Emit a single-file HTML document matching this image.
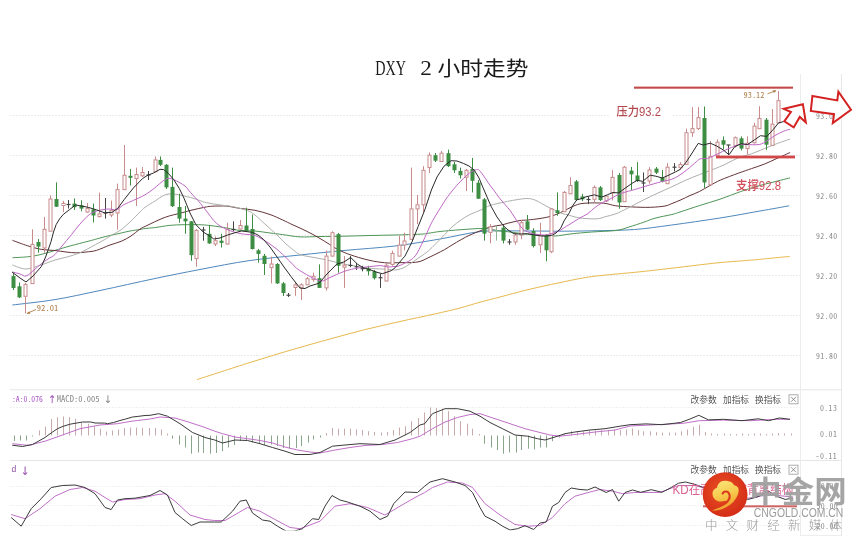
<!DOCTYPE html>
<html><head><meta charset="utf-8">
<style>
html,body{margin:0;padding:0;background:#fff;}
body{width:859px;height:544px;overflow:hidden;position:relative;}
svg{position:absolute;left:0;top:0;}
.ax{font-family:"Noto Sans Mono CJK SC",monospace;font-size:7.9px;letter-spacing:0.35px;fill:#8a8a8a;}
.cj{font-family:"Liberation Sans","Noto Sans CJK SC",sans-serif;}
</style></head><body>
<svg width="859" height="544" viewBox="0 0 859 544">
<rect width="859" height="544" fill="#fff"/>
<line x1="10" y1="115.5" x2="800" y2="115.5" stroke="#ececec" stroke-width="1" stroke-dasharray="2,1"/>
<line x1="10" y1="155.5" x2="800" y2="155.5" stroke="#ececec" stroke-width="1" stroke-dasharray="2,1"/>
<line x1="10" y1="195.5" x2="800" y2="195.5" stroke="#ececec" stroke-width="1" stroke-dasharray="2,1"/>
<line x1="10" y1="235.5" x2="800" y2="235.5" stroke="#ececec" stroke-width="1" stroke-dasharray="2,1"/>
<line x1="10" y1="275.5" x2="800" y2="275.5" stroke="#ececec" stroke-width="1" stroke-dasharray="2,1"/>
<line x1="10" y1="315.5" x2="800" y2="315.5" stroke="#ececec" stroke-width="1" stroke-dasharray="2,1"/>
<line x1="10" y1="355.5" x2="800" y2="355.5" stroke="#ececec" stroke-width="1" stroke-dasharray="2,1"/>
<line x1="10" y1="389.8" x2="841" y2="389.8" stroke="#e6e6e6" stroke-width="1"/>
<line x1="10" y1="460.5" x2="841" y2="460.5" stroke="#e6e6e6" stroke-width="1"/>
<line x1="800" y1="535.5" x2="841" y2="535.5" stroke="#eeeeee" stroke-width="1"/>
<line x1="10" y1="407.5" x2="800" y2="407.5" stroke="#f1f1f1" stroke-width="1" stroke-dasharray="2,1"/>
<line x1="10" y1="486.5" x2="800" y2="486.5" stroke="#f2f2f2" stroke-width="1" stroke-dasharray="2,1"/>
<line x1="10" y1="505.5" x2="800" y2="505.5" stroke="#f2f2f2" stroke-width="1" stroke-dasharray="2,1"/>
<line x1="10" y1="525.5" x2="800" y2="525.5" stroke="#f2f2f2" stroke-width="1" stroke-dasharray="2,1"/>
<line x1="800.5" y1="74" x2="800.5" y2="536" stroke="#ececec" stroke-width="1"/>
<line x1="841.5" y1="74" x2="841.5" y2="536" stroke="#e7e7e7" stroke-width="1"/>
<path d="M197.0,379.6 C205.8,376.8 233.7,367.6 250.0,362.5 C266.3,357.4 281.5,352.8 294.8,348.9 C308.1,345.0 318.4,342.2 330.0,339.0 C341.6,335.8 352.9,332.6 364.6,329.7 C376.3,326.8 388.4,324.1 400.0,321.5 C411.6,318.9 424.5,316.2 434.5,314.0 C444.5,311.8 452.4,310.0 460.0,308.0 C467.6,306.0 473.3,304.0 480.0,302.2 C486.7,300.4 492.2,299.0 500.0,297.0 C507.8,295.0 516.6,292.4 526.6,290.0 C536.6,287.6 549.1,284.8 560.0,282.6 C570.9,280.4 578.5,278.4 591.8,276.6 C605.1,274.8 627.0,273.2 640.0,271.8 C653.0,270.4 660.7,269.5 670.0,268.4 C679.3,267.3 687.6,266.3 695.9,265.3 C704.2,264.3 710.7,263.5 720.0,262.6 C729.3,261.7 743.4,260.8 751.7,260.1 C760.0,259.4 763.6,258.9 770.0,258.3 C776.4,257.7 786.6,256.7 789.9,256.4" fill="none" stroke="#e8b84e" stroke-width="1"/>
<path d="M12.4,305.0 C19.5,304.1 40.4,302.0 55.0,299.6 C69.6,297.2 83.3,294.0 100.0,290.5 C116.7,287.0 138.3,282.0 155.0,278.5 C171.7,275.0 184.2,272.5 200.0,269.5 C215.8,266.5 233.3,262.9 250.0,260.5 C266.7,258.1 284.3,256.7 300.0,255.0 C315.7,253.3 328.2,252.0 344.0,250.5 C359.8,249.0 379.0,247.9 395.0,246.0 C411.0,244.1 425.7,241.4 440.0,239.0 C454.3,236.6 468.2,232.8 481.0,231.5 C493.8,230.2 504.7,231.0 517.0,230.9 C529.3,230.8 542.5,231.2 555.0,231.2 C567.5,231.2 578.5,231.1 591.8,230.8 C605.0,230.5 621.2,230.5 634.5,229.5 C647.8,228.5 657.5,226.9 671.8,225.0 C686.0,223.1 705.3,220.3 720.0,218.0 C734.7,215.7 748.5,213.0 760.0,211.0 C771.5,209.0 784.3,206.7 789.2,205.8" fill="none" stroke="#4f88bd" stroke-width="1"/>
<path d="M12.4,257.7 C14.9,257.6 22.8,257.3 27.6,256.8 C32.4,256.3 36.4,255.6 41.0,254.5 C45.6,253.4 50.2,251.8 55.0,250.4 C59.8,249.0 64.5,247.5 70.0,246.0 C75.5,244.5 83.1,242.6 88.1,241.3 C93.1,240.0 96.3,239.0 100.0,238.0 C103.7,237.0 106.5,236.3 110.0,235.5 C113.5,234.7 117.9,233.8 121.2,233.0 C124.5,232.2 126.9,231.6 130.0,231.0 C133.1,230.4 137.5,229.9 140.0,229.5 C142.5,229.1 142.6,228.8 145.0,228.5 C147.4,228.2 150.6,228.1 154.7,227.6 C158.8,227.1 164.5,225.9 169.4,225.4 C174.3,224.9 179.1,224.8 184.0,224.7 C188.9,224.6 194.5,224.6 198.8,224.7 C203.1,224.8 206.5,225.1 210.0,225.5 C213.5,225.9 217.1,226.5 220.0,226.9 C222.9,227.3 224.3,227.6 227.6,228.2 C230.9,228.8 235.4,230.0 240.0,230.5 C244.6,231.0 250.0,230.6 255.0,231.0 C260.0,231.4 265.4,232.4 270.0,233.0 C274.6,233.6 277.7,233.9 282.7,234.6 C287.7,235.2 293.8,236.6 300.0,236.9 C306.2,237.2 312.7,236.6 320.0,236.5 C327.3,236.4 335.7,236.4 344.0,236.2 C352.3,236.0 361.5,235.7 370.0,235.5 C378.5,235.3 386.7,235.2 395.0,235.0 C403.3,234.8 414.5,234.5 420.0,234.2 C425.5,233.9 424.8,233.8 428.1,233.3 C431.4,232.9 434.5,232.1 440.0,231.5 C445.5,230.9 453.9,230.2 461.2,229.7 C468.5,229.2 477.5,228.3 484.0,228.5 C490.5,228.7 495.7,230.4 500.0,231.0 C504.3,231.6 505.4,231.4 510.0,232.0 C514.6,232.6 522.4,233.7 527.6,234.3 C532.8,234.9 536.4,235.2 541.0,235.5 C545.6,235.8 550.2,236.2 555.0,236.0 C559.8,235.8 563.9,234.7 570.0,234.0 C576.1,233.3 584.1,232.6 591.8,232.0 C599.4,231.4 609.7,231.3 615.9,230.5 C622.1,229.7 624.4,228.4 629.0,227.0 C633.6,225.6 639.5,223.7 643.8,222.2 C648.1,220.7 650.3,219.5 655.0,218.2 C659.7,216.9 667.6,215.5 671.8,214.5 C676.0,213.5 675.4,213.5 680.0,212.0 C684.6,210.5 693.0,207.6 699.7,205.5 C706.4,203.4 713.1,201.5 720.0,199.2 C726.9,196.9 734.1,193.8 740.8,191.5 C747.5,189.2 753.4,187.4 760.0,185.5 C766.6,183.6 775.4,181.6 780.4,180.3 C785.4,179.0 788.4,178.3 790.0,177.9" fill="none" stroke="#4f9656" stroke-width="1"/>
<path d="M12.4,240.3 C14.9,241.2 22.8,244.3 27.6,245.8 C32.4,247.3 36.8,248.6 41.4,249.4 C46.0,250.2 50.9,250.1 55.0,250.5 C59.1,250.9 62.4,251.6 66.0,252.0 C69.6,252.4 73.2,252.8 76.5,252.8 C79.8,252.8 82.7,252.4 86.0,252.0 C89.3,251.6 92.4,251.6 96.4,250.4 C100.4,249.2 105.9,246.5 110.0,245.0 C114.1,243.5 117.7,242.8 121.2,241.3 C124.7,239.8 127.9,238.0 131.0,236.0 C134.1,234.0 137.3,230.8 140.0,229.1 C142.7,227.3 144.6,226.7 147.0,225.5 C149.4,224.3 152.2,223.0 154.7,221.8 C157.2,220.6 159.6,219.5 162.0,218.5 C164.4,217.5 166.9,216.7 169.4,215.9 C171.9,215.2 174.6,214.6 177.0,214.0 C179.4,213.4 181.7,212.8 184.0,212.2 C186.3,211.6 188.5,210.9 191.0,210.3 C193.5,209.7 196.5,209.0 198.8,208.5 C201.1,208.0 203.0,207.6 205.0,207.2 C207.0,206.8 208.1,206.5 210.6,206.3 C213.1,206.1 217.2,206.0 220.0,206.0 C222.8,206.0 224.3,205.8 227.6,206.2 C230.9,206.6 235.4,207.7 240.0,208.4 C244.6,209.1 250.0,209.3 255.0,210.3 C260.0,211.3 265.4,212.9 270.0,214.5 C274.6,216.1 279.0,218.3 282.7,220.0 C286.4,221.7 288.8,223.0 292.0,224.5 C295.2,226.0 298.7,227.4 302.0,229.0 C305.3,230.6 309.0,232.4 312.0,234.0 C315.0,235.6 317.1,236.8 320.0,238.5 C322.9,240.2 326.7,242.6 329.4,244.3 C332.1,246.0 333.6,247.2 336.0,248.5 C338.4,249.8 341.6,251.3 344.1,252.4 C346.6,253.5 348.6,254.2 351.0,255.0 C353.4,255.8 356.3,256.8 358.8,257.5 C361.3,258.2 363.6,258.9 366.0,259.5 C368.4,260.1 371.0,260.7 373.5,261.2 C376.0,261.7 378.6,262.0 381.0,262.3 C383.4,262.6 385.9,262.9 388.2,263.0 C390.5,263.1 392.5,262.9 395.0,262.8 C397.5,262.7 400.2,262.6 403.0,262.6 C405.8,262.6 408.7,262.8 411.5,262.6 C414.3,262.4 417.2,262.3 420.0,261.5 C422.8,260.7 425.4,259.1 428.1,257.8 C430.8,256.6 433.2,255.4 436.0,254.0 C438.8,252.6 441.9,251.1 444.6,249.6 C447.3,248.1 449.2,246.7 452.0,245.0 C454.8,243.3 458.2,241.3 461.2,239.6 C464.2,237.9 466.7,236.5 470.0,235.0 C473.3,233.5 477.7,231.8 481.0,230.5 C484.3,229.2 486.5,227.9 490.0,227.0 C493.5,226.1 498.5,225.6 501.8,224.9 C505.1,224.2 507.0,223.4 510.0,222.7 C513.0,222.0 517.1,220.9 520.0,220.5 C522.9,220.1 524.3,220.3 527.6,220.0 C530.9,219.7 536.3,219.1 540.0,218.5 C543.7,217.9 546.7,217.4 550.0,216.5 C553.3,215.6 555.9,214.6 560.0,212.8 C564.1,211.0 570.7,207.1 574.9,205.5 C579.1,203.9 580.2,203.6 585.0,203.2 C589.8,202.8 598.5,202.8 603.6,203.2 C608.7,203.6 611.0,205.2 615.7,205.8 C620.4,206.4 625.9,206.7 631.6,206.9 C637.4,207.2 644.6,207.5 650.2,207.3 C655.8,207.2 661.4,206.6 665.0,206.0 C668.6,205.4 669.3,204.5 672.0,203.5 C674.7,202.5 678.0,201.1 681.0,199.8 C684.0,198.5 686.9,196.9 690.0,195.5 C693.1,194.1 696.4,193.1 699.7,191.4 C703.0,189.7 706.5,187.4 710.0,185.5 C713.5,183.6 715.8,182.1 720.6,180.0 C725.4,177.9 733.5,175.0 738.6,173.1 C743.8,171.2 747.2,170.1 751.5,168.6 C755.8,167.1 760.1,165.8 764.4,164.1 C768.7,162.4 772.9,160.2 777.2,158.3 C781.5,156.4 788.0,153.5 790.1,152.5" fill="none" stroke="#643437" stroke-width="1"/>
<path d="M12.4,265.0 C14.7,265.7 21.2,269.0 26.0,269.0 C30.8,269.0 36.2,266.5 41.0,265.0 C45.8,263.5 50.7,261.3 55.0,260.0 C59.3,258.7 62.9,258.2 67.0,257.0 C71.1,255.8 75.6,254.6 79.8,252.8 C84.0,251.1 87.9,248.7 92.0,246.5 C96.1,244.3 101.3,241.5 104.6,239.6 C107.9,237.7 109.2,236.7 112.0,235.0 C114.8,233.3 118.2,231.9 121.2,229.7 C124.2,227.5 126.9,224.9 130.0,222.0 C133.1,219.1 137.5,214.4 140.0,212.0 C142.5,209.6 142.6,209.1 145.0,207.3 C147.4,205.5 152.0,202.9 154.7,201.2 C157.4,199.5 158.8,198.2 161.0,197.0 C163.2,195.8 165.1,194.4 168.0,194.0 C170.9,193.6 175.2,194.2 178.2,194.6 C181.2,195.0 183.5,195.9 186.0,196.5 C188.5,197.1 189.6,197.2 193.0,198.2 C196.4,199.2 201.7,201.5 206.2,202.6 C210.7,203.7 215.7,204.2 220.0,204.9 C224.3,205.6 227.4,205.6 232.0,206.5 C236.6,207.4 243.6,209.2 247.4,210.6 C251.2,212.0 251.9,212.6 255.0,215.0 C258.1,217.4 262.3,221.7 266.0,225.0 C269.7,228.3 273.8,232.0 277.0,235.0 C280.2,238.0 282.2,240.4 285.0,243.0 C287.8,245.6 291.2,248.4 293.7,250.3 C296.2,252.2 297.3,253.5 300.0,254.6 C302.7,255.7 306.3,256.1 310.0,256.8 C313.7,257.5 318.2,258.2 322.0,259.0 C325.8,259.8 329.3,260.6 333.0,261.5 C336.7,262.4 340.3,263.4 344.0,264.1 C347.7,264.9 351.3,265.4 355.0,266.0 C358.7,266.6 362.3,267.3 366.0,267.8 C369.7,268.3 373.3,268.6 377.0,268.8 C380.7,269.1 385.0,269.1 388.0,269.3 C391.0,269.5 392.5,270.2 395.0,270.0 C397.5,269.8 400.2,269.2 403.0,268.0 C405.8,266.8 408.7,264.6 411.5,262.8 C414.3,261.0 417.2,258.9 420.0,257.0 C422.8,255.1 425.4,253.4 428.1,251.2 C430.8,248.9 433.2,246.2 436.0,243.5 C438.8,240.8 441.9,237.4 444.6,234.7 C447.3,231.9 449.2,229.5 452.0,227.0 C454.8,224.5 458.2,221.9 461.2,219.8 C464.2,217.7 466.7,216.2 470.0,214.5 C473.3,212.8 477.7,211.4 481.0,209.9 C484.3,208.4 486.1,206.8 490.0,205.5 C493.9,204.2 500.5,202.9 504.7,202.0 C508.9,201.1 511.3,200.6 515.0,200.0 C518.7,199.4 523.7,198.5 527.0,198.5 C530.3,198.5 532.6,199.2 535.0,200.0 C537.4,200.8 539.2,202.2 541.4,203.4 C543.6,204.6 545.7,205.8 548.0,207.0 C550.3,208.2 552.8,209.2 555.1,210.3 C557.4,211.4 559.9,212.8 562.0,213.5 C564.1,214.2 565.3,214.1 567.5,214.7 C569.7,215.3 572.5,216.4 575.0,217.0 C577.5,217.6 579.0,218.0 582.7,218.3 C586.4,218.6 593.4,219.1 597.3,218.8 C601.2,218.5 602.9,217.3 606.0,216.5 C609.1,215.7 612.2,215.2 615.9,213.8 C619.6,212.4 623.4,210.3 628.0,208.0 C632.6,205.7 639.0,202.2 643.8,199.8 C648.6,197.4 652.3,195.7 657.0,193.5 C661.7,191.3 667.1,189.0 671.8,186.8 C676.5,184.6 680.4,182.6 685.0,180.5 C689.6,178.4 695.1,176.3 699.7,174.5 C704.4,172.7 708.6,171.2 712.9,169.5 C717.2,167.8 721.4,166.1 725.7,164.1 C730.0,162.1 734.3,159.3 738.6,157.6 C742.9,155.9 747.2,155.3 751.5,153.8 C755.8,152.3 760.1,150.3 764.4,148.6 C768.7,146.9 772.9,145.1 777.2,143.5 C781.5,141.9 788.0,139.8 790.1,139.0" fill="none" stroke="#adb0ab" stroke-width="1"/>
<line x1="13.5" y1="273.0" x2="13.5" y2="290.0" stroke="#3d8d43" stroke-width="1"/>
<rect x="11.5" y="276.1" width="4" height="11.9" fill="#3d8d43"/>
<line x1="19.5" y1="282.5" x2="19.5" y2="298.0" stroke="#3d8d43" stroke-width="1"/>
<rect x="17.5" y="286.3" width="4" height="11.1" fill="#3d8d43"/>
<line x1="25.5" y1="283.0" x2="25.5" y2="284.4" stroke="#c88a8a" stroke-width="1"/>
<line x1="25.5" y1="296.3" x2="25.5" y2="313.4" stroke="#c88a8a" stroke-width="1"/>
<rect x="24" y="284.4" width="3" height="11.9" fill="#fff" stroke="#c88a8a" stroke-width="1"/>
<line x1="32.5" y1="229.3" x2="32.5" y2="244.4" stroke="#c88a8a" stroke-width="1"/>
<line x1="32.5" y1="283.6" x2="32.5" y2="284.0" stroke="#c88a8a" stroke-width="1"/>
<rect x="31" y="244.4" width="3" height="39.2" fill="#fff" stroke="#c88a8a" stroke-width="1"/>
<line x1="38.5" y1="239.0" x2="38.5" y2="252.7" stroke="#3d8d43" stroke-width="1"/>
<rect x="36.5" y="242.0" width="4" height="4.6" fill="#3d8d43"/>
<line x1="44.5" y1="216.9" x2="44.5" y2="229.3" stroke="#c88a8a" stroke-width="1"/>
<line x1="44.5" y1="248.0" x2="44.5" y2="252.7" stroke="#c88a8a" stroke-width="1"/>
<rect x="43" y="229.3" width="3" height="18.7" fill="#fff" stroke="#c88a8a" stroke-width="1"/>
<line x1="50.5" y1="195.4" x2="50.5" y2="199.0" stroke="#c88a8a" stroke-width="1"/>
<line x1="50.5" y1="231.2" x2="50.5" y2="231.0" stroke="#c88a8a" stroke-width="1"/>
<rect x="49" y="199.0" width="3" height="32.2" fill="#fff" stroke="#c88a8a" stroke-width="1"/>
<line x1="56.5" y1="182.4" x2="56.5" y2="207.0" stroke="#3d8d43" stroke-width="1"/>
<rect x="54.5" y="199.0" width="4" height="7.7" fill="#3d8d43"/>
<line x1="63.5" y1="200.9" x2="63.5" y2="203.5" stroke="#c88a8a" stroke-width="1"/>
<line x1="63.5" y1="205.5" x2="63.5" y2="212.0" stroke="#c88a8a" stroke-width="1"/>
<rect x="62" y="203.5" width="3" height="2.0" fill="#fff" stroke="#c88a8a" stroke-width="1"/>
<line x1="68.5" y1="200.0" x2="68.5" y2="208.6" stroke="#444" stroke-width="1"/>
<line x1="66.5" y1="204.5" x2="70.5" y2="204.5" stroke="#444" stroke-width="1.2"/>
<line x1="74.5" y1="198.4" x2="74.5" y2="210.0" stroke="#3d8d43" stroke-width="1"/>
<rect x="72.5" y="203.6" width="4" height="3.6" fill="#3d8d43"/>
<line x1="81.5" y1="200.3" x2="81.5" y2="211.4" stroke="#3d8d43" stroke-width="1"/>
<rect x="79.5" y="205.3" width="4" height="3.3" fill="#3d8d43"/>
<line x1="87.5" y1="203.0" x2="87.5" y2="208.6" stroke="#c88a8a" stroke-width="1"/>
<line x1="87.5" y1="212.0" x2="87.5" y2="212.7" stroke="#c88a8a" stroke-width="1"/>
<rect x="86" y="208.6" width="3" height="3.4" fill="#fff" stroke="#c88a8a" stroke-width="1"/>
<line x1="93.5" y1="203.6" x2="93.5" y2="222.4" stroke="#3d8d43" stroke-width="1"/>
<rect x="91.5" y="209.4" width="4" height="6.1" fill="#3d8d43"/>
<line x1="99.5" y1="192.6" x2="99.5" y2="213.9" stroke="#c88a8a" stroke-width="1"/>
<line x1="99.5" y1="216.6" x2="99.5" y2="217.4" stroke="#c88a8a" stroke-width="1"/>
<rect x="98" y="213.9" width="3" height="2.7" fill="#fff" stroke="#c88a8a" stroke-width="1"/>
<line x1="105.5" y1="198.0" x2="105.5" y2="218.6" stroke="#444" stroke-width="1"/>
<line x1="103.5" y1="213.0" x2="107.5" y2="213.0" stroke="#444" stroke-width="1.2"/>
<line x1="111.5" y1="200.6" x2="111.5" y2="210.3" stroke="#c88a8a" stroke-width="1"/>
<line x1="111.5" y1="215.0" x2="111.5" y2="217.2" stroke="#c88a8a" stroke-width="1"/>
<rect x="110" y="210.3" width="3" height="4.7" fill="#fff" stroke="#c88a8a" stroke-width="1"/>
<line x1="117.5" y1="183.6" x2="117.5" y2="189.6" stroke="#c88a8a" stroke-width="1"/>
<line x1="117.5" y1="213.0" x2="117.5" y2="229.6" stroke="#c88a8a" stroke-width="1"/>
<rect x="116" y="189.6" width="3" height="23.4" fill="#fff" stroke="#c88a8a" stroke-width="1"/>
<line x1="124.5" y1="145.0" x2="124.5" y2="175.3" stroke="#c88a8a" stroke-width="1"/>
<line x1="124.5" y1="189.6" x2="124.5" y2="190.0" stroke="#c88a8a" stroke-width="1"/>
<rect x="123" y="175.3" width="3" height="14.3" fill="#fff" stroke="#c88a8a" stroke-width="1"/>
<line x1="130.5" y1="169.0" x2="130.5" y2="185.5" stroke="#3d8d43" stroke-width="1"/>
<rect x="128.5" y="175.8" width="4" height="2.0" fill="#3d8d43"/>
<line x1="136.5" y1="167.6" x2="136.5" y2="174.5" stroke="#c88a8a" stroke-width="1"/>
<line x1="136.5" y1="178.6" x2="136.5" y2="206.0" stroke="#c88a8a" stroke-width="1"/>
<rect x="135" y="174.5" width="3" height="4.1" fill="#fff" stroke="#c88a8a" stroke-width="1"/>
<line x1="142.5" y1="167.0" x2="142.5" y2="172.5" stroke="#c88a8a" stroke-width="1"/>
<line x1="142.5" y1="175.8" x2="142.5" y2="177.0" stroke="#c88a8a" stroke-width="1"/>
<rect x="141" y="172.5" width="3" height="3.3" fill="#fff" stroke="#c88a8a" stroke-width="1"/>
<line x1="148.5" y1="171.0" x2="148.5" y2="180.0" stroke="#444" stroke-width="1"/>
<line x1="146.5" y1="175.0" x2="150.5" y2="175.0" stroke="#444" stroke-width="1.2"/>
<line x1="155.5" y1="156.5" x2="155.5" y2="159.9" stroke="#c88a8a" stroke-width="1"/>
<line x1="155.5" y1="171.7" x2="155.5" y2="172.0" stroke="#c88a8a" stroke-width="1"/>
<rect x="154" y="159.9" width="3" height="11.8" fill="#fff" stroke="#c88a8a" stroke-width="1"/>
<line x1="160.5" y1="156.5" x2="160.5" y2="166.0" stroke="#3d8d43" stroke-width="1"/>
<rect x="158.5" y="159.9" width="4" height="4.9" fill="#3d8d43"/>
<line x1="166.5" y1="164.0" x2="166.5" y2="189.0" stroke="#3d8d43" stroke-width="1"/>
<rect x="164.5" y="164.8" width="4" height="22.6" fill="#3d8d43"/>
<line x1="172.5" y1="167.6" x2="172.5" y2="207.0" stroke="#3d8d43" stroke-width="1"/>
<rect x="170.5" y="186.9" width="4" height="19.3" fill="#3d8d43"/>
<line x1="179.5" y1="193.8" x2="179.5" y2="222.7" stroke="#3d8d43" stroke-width="1"/>
<rect x="177.5" y="207.0" width="4" height="11.6" fill="#3d8d43"/>
<line x1="185.5" y1="206.0" x2="185.5" y2="233.7" stroke="#3d8d43" stroke-width="1"/>
<rect x="183.5" y="218.6" width="4" height="2.7" fill="#3d8d43"/>
<line x1="191.5" y1="221.0" x2="191.5" y2="260.8" stroke="#3d8d43" stroke-width="1"/>
<rect x="189.5" y="221.3" width="4" height="33.9" fill="#3d8d43"/>
<line x1="196.5" y1="229.0" x2="196.5" y2="230.4" stroke="#c88a8a" stroke-width="1"/>
<line x1="196.5" y1="258.6" x2="196.5" y2="266.8" stroke="#c88a8a" stroke-width="1"/>
<rect x="195" y="230.4" width="3" height="28.2" fill="#fff" stroke="#c88a8a" stroke-width="1"/>
<line x1="203.5" y1="226.9" x2="203.5" y2="240.7" stroke="#444" stroke-width="1"/>
<line x1="201.5" y1="230.0" x2="205.5" y2="230.0" stroke="#444" stroke-width="1.2"/>
<line x1="209.5" y1="225.5" x2="209.5" y2="244.0" stroke="#3d8d43" stroke-width="1"/>
<rect x="207.5" y="233.8" width="4" height="9.6" fill="#3d8d43"/>
<line x1="215.5" y1="236.5" x2="215.5" y2="240.7" stroke="#c88a8a" stroke-width="1"/>
<line x1="215.5" y1="244.0" x2="215.5" y2="246.0" stroke="#c88a8a" stroke-width="1"/>
<rect x="214" y="240.7" width="3" height="3.3" fill="#fff" stroke="#c88a8a" stroke-width="1"/>
<line x1="221.5" y1="233.8" x2="221.5" y2="247.5" stroke="#3d8d43" stroke-width="1"/>
<rect x="219.5" y="240.7" width="4" height="2.2" fill="#3d8d43"/>
<line x1="227.5" y1="222.7" x2="227.5" y2="229.6" stroke="#c88a8a" stroke-width="1"/>
<line x1="227.5" y1="244.0" x2="227.5" y2="244.5" stroke="#c88a8a" stroke-width="1"/>
<rect x="226" y="229.6" width="3" height="14.4" fill="#fff" stroke="#c88a8a" stroke-width="1"/>
<line x1="233.5" y1="221.4" x2="233.5" y2="231.0" stroke="#444" stroke-width="1"/>
<line x1="231.5" y1="229.5" x2="235.5" y2="229.5" stroke="#444" stroke-width="1.2"/>
<line x1="240.5" y1="220.0" x2="240.5" y2="225.5" stroke="#c88a8a" stroke-width="1"/>
<line x1="240.5" y1="229.0" x2="240.5" y2="229.5" stroke="#c88a8a" stroke-width="1"/>
<rect x="239" y="225.5" width="3" height="3.5" fill="#fff" stroke="#c88a8a" stroke-width="1"/>
<line x1="246.5" y1="207.6" x2="246.5" y2="232.0" stroke="#3d8d43" stroke-width="1"/>
<rect x="244.5" y="225.5" width="4" height="5.5" fill="#3d8d43"/>
<line x1="252.5" y1="214.5" x2="252.5" y2="249.5" stroke="#3d8d43" stroke-width="1"/>
<rect x="250.5" y="229.0" width="4" height="20.0" fill="#3d8d43"/>
<line x1="258.5" y1="249.0" x2="258.5" y2="262.7" stroke="#3d8d43" stroke-width="1"/>
<rect x="256.5" y="250.3" width="4" height="3.6" fill="#3d8d43"/>
<line x1="264.5" y1="253.9" x2="264.5" y2="275.0" stroke="#3d8d43" stroke-width="1"/>
<rect x="262.5" y="255.8" width="4" height="8.2" fill="#3d8d43"/>
<line x1="271.5" y1="256.6" x2="271.5" y2="264.0" stroke="#c88a8a" stroke-width="1"/>
<line x1="271.5" y1="267.7" x2="271.5" y2="283.4" stroke="#c88a8a" stroke-width="1"/>
<rect x="270" y="264.0" width="3" height="3.7" fill="#fff" stroke="#c88a8a" stroke-width="1"/>
<line x1="277.5" y1="263.0" x2="277.5" y2="284.0" stroke="#3d8d43" stroke-width="1"/>
<rect x="275.5" y="264.0" width="4" height="19.4" fill="#3d8d43"/>
<line x1="283.5" y1="282.0" x2="283.5" y2="296.0" stroke="#3d8d43" stroke-width="1"/>
<rect x="281.5" y="283.4" width="4" height="9.6" fill="#3d8d43"/>
<line x1="288.5" y1="293.0" x2="288.5" y2="297.0" stroke="#444" stroke-width="1"/>
<line x1="286.5" y1="295.2" x2="290.5" y2="295.2" stroke="#444" stroke-width="1.2"/>
<line x1="295.5" y1="282.0" x2="295.5" y2="284.8" stroke="#c88a8a" stroke-width="1"/>
<line x1="295.5" y1="287.5" x2="295.5" y2="295.8" stroke="#c88a8a" stroke-width="1"/>
<rect x="294" y="284.8" width="3" height="2.7" fill="#fff" stroke="#c88a8a" stroke-width="1"/>
<line x1="301.5" y1="283.4" x2="301.5" y2="284.8" stroke="#c88a8a" stroke-width="1"/>
<line x1="301.5" y1="288.0" x2="301.5" y2="300.0" stroke="#c88a8a" stroke-width="1"/>
<rect x="300" y="284.8" width="3" height="3.2" fill="#fff" stroke="#c88a8a" stroke-width="1"/>
<line x1="307.5" y1="277.0" x2="307.5" y2="278.7" stroke="#c88a8a" stroke-width="1"/>
<line x1="307.5" y1="284.8" x2="307.5" y2="285.0" stroke="#c88a8a" stroke-width="1"/>
<rect x="306" y="278.7" width="3" height="6.1" fill="#fff" stroke="#c88a8a" stroke-width="1"/>
<line x1="313.5" y1="272.7" x2="313.5" y2="276.3" stroke="#c88a8a" stroke-width="1"/>
<line x1="313.5" y1="279.6" x2="313.5" y2="281.8" stroke="#c88a8a" stroke-width="1"/>
<rect x="312" y="276.3" width="3" height="3.3" fill="#fff" stroke="#c88a8a" stroke-width="1"/>
<line x1="319.5" y1="264.4" x2="319.5" y2="288.0" stroke="#3d8d43" stroke-width="1"/>
<rect x="317.5" y="278.2" width="4" height="9.7" fill="#3d8d43"/>
<line x1="326.5" y1="250.6" x2="326.5" y2="256.1" stroke="#c88a8a" stroke-width="1"/>
<line x1="326.5" y1="287.9" x2="326.5" y2="290.6" stroke="#c88a8a" stroke-width="1"/>
<rect x="325" y="256.1" width="3" height="31.8" fill="#fff" stroke="#c88a8a" stroke-width="1"/>
<line x1="332.5" y1="231.3" x2="332.5" y2="232.7" stroke="#c88a8a" stroke-width="1"/>
<line x1="332.5" y1="256.1" x2="332.5" y2="256.5" stroke="#c88a8a" stroke-width="1"/>
<rect x="331" y="232.7" width="3" height="23.4" fill="#fff" stroke="#c88a8a" stroke-width="1"/>
<line x1="338.5" y1="233.0" x2="338.5" y2="272.7" stroke="#3d8d43" stroke-width="1"/>
<rect x="336.5" y="234.1" width="4" height="31.7" fill="#3d8d43"/>
<line x1="344.5" y1="256.1" x2="344.5" y2="265.2" stroke="#c88a8a" stroke-width="1"/>
<line x1="344.5" y1="267.2" x2="344.5" y2="287.9" stroke="#c88a8a" stroke-width="1"/>
<rect x="343" y="265.2" width="3" height="2.0" fill="#fff" stroke="#c88a8a" stroke-width="1"/>
<line x1="350.5" y1="256.1" x2="350.5" y2="267.2" stroke="#444" stroke-width="1"/>
<line x1="348.5" y1="265.4" x2="352.5" y2="265.4" stroke="#444" stroke-width="1.2"/>
<line x1="356.5" y1="263.0" x2="356.5" y2="270.0" stroke="#444" stroke-width="1"/>
<line x1="354.5" y1="266.8" x2="358.5" y2="266.8" stroke="#444" stroke-width="1.2"/>
<line x1="362.5" y1="265.8" x2="362.5" y2="271.3" stroke="#444" stroke-width="1"/>
<line x1="360.5" y1="268.7" x2="364.5" y2="268.7" stroke="#444" stroke-width="1.2"/>
<line x1="368.5" y1="265.8" x2="368.5" y2="275.5" stroke="#3d8d43" stroke-width="1"/>
<rect x="366.5" y="268.6" width="4" height="2.7" fill="#3d8d43"/>
<line x1="374.5" y1="270.0" x2="374.5" y2="279.6" stroke="#3d8d43" stroke-width="1"/>
<rect x="372.5" y="271.3" width="4" height="6.9" fill="#3d8d43"/>
<line x1="380.5" y1="274.0" x2="380.5" y2="287.9" stroke="#444" stroke-width="1"/>
<line x1="378.5" y1="277.7" x2="382.5" y2="277.7" stroke="#444" stroke-width="1.2"/>
<line x1="386.5" y1="263.0" x2="386.5" y2="265.2" stroke="#c88a8a" stroke-width="1"/>
<line x1="386.5" y1="281.0" x2="386.5" y2="281.5" stroke="#c88a8a" stroke-width="1"/>
<rect x="385" y="265.2" width="3" height="15.8" fill="#fff" stroke="#c88a8a" stroke-width="1"/>
<line x1="392.5" y1="250.6" x2="392.5" y2="253.4" stroke="#c88a8a" stroke-width="1"/>
<line x1="392.5" y1="264.4" x2="392.5" y2="265.8" stroke="#c88a8a" stroke-width="1"/>
<rect x="391" y="253.4" width="3" height="11.0" fill="#fff" stroke="#c88a8a" stroke-width="1"/>
<line x1="399.5" y1="235.5" x2="399.5" y2="245.1" stroke="#c88a8a" stroke-width="1"/>
<line x1="399.5" y1="256.1" x2="399.5" y2="256.5" stroke="#c88a8a" stroke-width="1"/>
<rect x="398" y="245.1" width="3" height="11.0" fill="#fff" stroke="#c88a8a" stroke-width="1"/>
<line x1="404.5" y1="232.7" x2="404.5" y2="241.0" stroke="#c88a8a" stroke-width="1"/>
<line x1="404.5" y1="245.1" x2="404.5" y2="250.3" stroke="#c88a8a" stroke-width="1"/>
<rect x="403" y="241.0" width="3" height="4.1" fill="#fff" stroke="#c88a8a" stroke-width="1"/>
<line x1="411.5" y1="167.6" x2="411.5" y2="208.9" stroke="#c88a8a" stroke-width="1"/>
<line x1="411.5" y1="239.3" x2="411.5" y2="240.0" stroke="#c88a8a" stroke-width="1"/>
<rect x="410" y="208.9" width="3" height="30.4" fill="#fff" stroke="#c88a8a" stroke-width="1"/>
<line x1="417.5" y1="195.1" x2="417.5" y2="204.8" stroke="#c88a8a" stroke-width="1"/>
<line x1="417.5" y1="208.9" x2="417.5" y2="224.1" stroke="#c88a8a" stroke-width="1"/>
<rect x="416" y="204.8" width="3" height="4.1" fill="#fff" stroke="#c88a8a" stroke-width="1"/>
<line x1="423.5" y1="166.2" x2="423.5" y2="170.3" stroke="#c88a8a" stroke-width="1"/>
<line x1="423.5" y1="204.8" x2="423.5" y2="212.2" stroke="#c88a8a" stroke-width="1"/>
<rect x="422" y="170.3" width="3" height="34.5" fill="#fff" stroke="#c88a8a" stroke-width="1"/>
<line x1="429.5" y1="152.4" x2="429.5" y2="155.2" stroke="#c88a8a" stroke-width="1"/>
<line x1="429.5" y1="167.6" x2="429.5" y2="173.0" stroke="#c88a8a" stroke-width="1"/>
<rect x="428" y="155.2" width="3" height="12.4" fill="#fff" stroke="#c88a8a" stroke-width="1"/>
<line x1="435.5" y1="153.0" x2="435.5" y2="162.0" stroke="#3d8d43" stroke-width="1"/>
<rect x="433.5" y="155.2" width="4" height="5.5" fill="#3d8d43"/>
<line x1="441.5" y1="151.0" x2="441.5" y2="153.2" stroke="#c88a8a" stroke-width="1"/>
<line x1="441.5" y1="161.5" x2="441.5" y2="162.0" stroke="#c88a8a" stroke-width="1"/>
<rect x="440" y="153.2" width="3" height="8.3" fill="#fff" stroke="#c88a8a" stroke-width="1"/>
<line x1="448.5" y1="149.6" x2="448.5" y2="167.0" stroke="#3d8d43" stroke-width="1"/>
<rect x="446.5" y="153.2" width="4" height="13.0" fill="#3d8d43"/>
<line x1="454.5" y1="162.0" x2="454.5" y2="173.0" stroke="#3d8d43" stroke-width="1"/>
<rect x="452.5" y="164.3" width="4" height="6.0" fill="#3d8d43"/>
<line x1="460.5" y1="167.6" x2="460.5" y2="178.6" stroke="#3d8d43" stroke-width="1"/>
<rect x="458.5" y="170.9" width="4" height="4.4" fill="#3d8d43"/>
<line x1="466.5" y1="169.0" x2="466.5" y2="170.3" stroke="#c88a8a" stroke-width="1"/>
<line x1="466.5" y1="177.2" x2="466.5" y2="191.0" stroke="#c88a8a" stroke-width="1"/>
<rect x="465" y="170.3" width="3" height="6.9" fill="#fff" stroke="#c88a8a" stroke-width="1"/>
<line x1="472.5" y1="157.9" x2="472.5" y2="192.4" stroke="#3d8d43" stroke-width="1"/>
<rect x="470.5" y="169.0" width="4" height="11.8" fill="#3d8d43"/>
<line x1="478.5" y1="180.0" x2="478.5" y2="199.0" stroke="#3d8d43" stroke-width="1"/>
<rect x="476.5" y="182.7" width="4" height="16.0" fill="#3d8d43"/>
<line x1="484.5" y1="198.0" x2="484.5" y2="240.6" stroke="#3d8d43" stroke-width="1"/>
<rect x="482.5" y="199.3" width="4" height="34.4" fill="#3d8d43"/>
<line x1="490.5" y1="224.1" x2="490.5" y2="226.8" stroke="#c88a8a" stroke-width="1"/>
<line x1="490.5" y1="232.4" x2="490.5" y2="243.4" stroke="#c88a8a" stroke-width="1"/>
<rect x="489" y="226.8" width="3" height="5.6" fill="#fff" stroke="#c88a8a" stroke-width="1"/>
<line x1="496.5" y1="225.5" x2="496.5" y2="240.6" stroke="#8fb394" stroke-width="1"/>
<line x1="494.5" y1="231.0" x2="498.5" y2="231.0" stroke="#8fb394" stroke-width="1.2"/>
<line x1="503.5" y1="225.0" x2="503.5" y2="243.4" stroke="#3d8d43" stroke-width="1"/>
<rect x="501.5" y="227.7" width="4" height="12.9" fill="#3d8d43"/>
<line x1="509.5" y1="239.0" x2="509.5" y2="244.8" stroke="#444" stroke-width="1"/>
<line x1="507.5" y1="242.0" x2="511.5" y2="242.0" stroke="#444" stroke-width="1.2"/>
<line x1="515.5" y1="232.4" x2="515.5" y2="235.1" stroke="#c88a8a" stroke-width="1"/>
<line x1="515.5" y1="242.0" x2="515.5" y2="244.8" stroke="#c88a8a" stroke-width="1"/>
<rect x="514" y="235.1" width="3" height="6.9" fill="#fff" stroke="#c88a8a" stroke-width="1"/>
<line x1="521.5" y1="220.0" x2="521.5" y2="222.7" stroke="#c88a8a" stroke-width="1"/>
<line x1="521.5" y1="235.1" x2="521.5" y2="239.3" stroke="#c88a8a" stroke-width="1"/>
<rect x="520" y="222.7" width="3" height="12.4" fill="#fff" stroke="#c88a8a" stroke-width="1"/>
<line x1="527.5" y1="215.0" x2="527.5" y2="230.0" stroke="#3d8d43" stroke-width="1"/>
<rect x="525.5" y="221.3" width="4" height="8.3" fill="#3d8d43"/>
<line x1="533.5" y1="228.2" x2="533.5" y2="247.5" stroke="#3d8d43" stroke-width="1"/>
<rect x="531.5" y="231.0" width="4" height="15.1" fill="#3d8d43"/>
<line x1="540.5" y1="222.7" x2="540.5" y2="235.1" stroke="#c88a8a" stroke-width="1"/>
<line x1="540.5" y1="244.8" x2="540.5" y2="253.0" stroke="#c88a8a" stroke-width="1"/>
<rect x="539" y="235.1" width="3" height="9.7" fill="#fff" stroke="#c88a8a" stroke-width="1"/>
<line x1="546.5" y1="234.0" x2="546.5" y2="261.3" stroke="#3d8d43" stroke-width="1"/>
<rect x="544.5" y="235.1" width="4" height="15.2" fill="#3d8d43"/>
<line x1="551.5" y1="208.0" x2="551.5" y2="208.9" stroke="#c88a8a" stroke-width="1"/>
<line x1="551.5" y1="251.7" x2="551.5" y2="253.0" stroke="#c88a8a" stroke-width="1"/>
<rect x="550" y="208.9" width="3" height="42.8" fill="#fff" stroke="#c88a8a" stroke-width="1"/>
<line x1="557.5" y1="192.4" x2="557.5" y2="215.8" stroke="#3d8d43" stroke-width="1"/>
<rect x="555.5" y="210.3" width="4" height="2.7" fill="#3d8d43"/>
<line x1="564.5" y1="191.0" x2="564.5" y2="192.4" stroke="#c88a8a" stroke-width="1"/>
<line x1="564.5" y1="211.7" x2="564.5" y2="212.0" stroke="#c88a8a" stroke-width="1"/>
<rect x="563" y="192.4" width="3" height="19.3" fill="#fff" stroke="#c88a8a" stroke-width="1"/>
<line x1="570.5" y1="177.2" x2="570.5" y2="185.5" stroke="#c88a8a" stroke-width="1"/>
<line x1="570.5" y1="193.8" x2="570.5" y2="194.0" stroke="#c88a8a" stroke-width="1"/>
<rect x="569" y="185.5" width="3" height="8.3" fill="#fff" stroke="#c88a8a" stroke-width="1"/>
<line x1="576.5" y1="180.0" x2="576.5" y2="201.0" stroke="#3d8d43" stroke-width="1"/>
<rect x="574.5" y="181.4" width="4" height="18.6" fill="#3d8d43"/>
<line x1="582.5" y1="193.8" x2="582.5" y2="201.2" stroke="#3d8d43" stroke-width="1"/>
<rect x="580.5" y="196.5" width="4" height="2.8" fill="#3d8d43"/>
<line x1="588.5" y1="196.7" x2="588.5" y2="204.1" stroke="#444" stroke-width="1"/>
<line x1="586.5" y1="199.5" x2="590.5" y2="199.5" stroke="#444" stroke-width="1.2"/>
<line x1="594.5" y1="185.5" x2="594.5" y2="187.4" stroke="#c88a8a" stroke-width="1"/>
<line x1="594.5" y1="199.3" x2="594.5" y2="202.0" stroke="#c88a8a" stroke-width="1"/>
<rect x="593" y="187.4" width="3" height="11.9" fill="#fff" stroke="#c88a8a" stroke-width="1"/>
<line x1="600.5" y1="186.0" x2="600.5" y2="201.0" stroke="#3d8d43" stroke-width="1"/>
<rect x="598.5" y="187.4" width="4" height="12.7" fill="#3d8d43"/>
<line x1="606.5" y1="195.0" x2="606.5" y2="196.0" stroke="#c88a8a" stroke-width="1"/>
<line x1="606.5" y1="201.0" x2="606.5" y2="202.0" stroke="#c88a8a" stroke-width="1"/>
<rect x="605" y="196.0" width="3" height="5.0" fill="#fff" stroke="#c88a8a" stroke-width="1"/>
<line x1="612.5" y1="170.1" x2="612.5" y2="177.4" stroke="#c88a8a" stroke-width="1"/>
<line x1="612.5" y1="193.0" x2="612.5" y2="200.4" stroke="#c88a8a" stroke-width="1"/>
<rect x="611" y="177.4" width="3" height="15.6" fill="#fff" stroke="#c88a8a" stroke-width="1"/>
<line x1="619.5" y1="172.9" x2="619.5" y2="208.8" stroke="#3d8d43" stroke-width="1"/>
<rect x="617.5" y="175.0" width="4" height="27.5" fill="#3d8d43"/>
<line x1="624.5" y1="166.0" x2="624.5" y2="167.2" stroke="#c88a8a" stroke-width="1"/>
<line x1="624.5" y1="201.7" x2="624.5" y2="202.0" stroke="#c88a8a" stroke-width="1"/>
<rect x="623" y="167.2" width="3" height="34.5" fill="#fff" stroke="#c88a8a" stroke-width="1"/>
<line x1="631.5" y1="166.9" x2="631.5" y2="190.0" stroke="#3d8d43" stroke-width="1"/>
<rect x="629.5" y="170.6" width="4" height="3.7" fill="#3d8d43"/>
<line x1="637.5" y1="162.2" x2="637.5" y2="182.0" stroke="#3d8d43" stroke-width="1"/>
<rect x="635.5" y="175.5" width="4" height="5.5" fill="#3d8d43"/>
<line x1="643.5" y1="172.4" x2="643.5" y2="192.0" stroke="#444" stroke-width="1"/>
<line x1="641.5" y1="183.0" x2="645.5" y2="183.0" stroke="#444" stroke-width="1.2"/>
<line x1="649.5" y1="167.2" x2="649.5" y2="170.0" stroke="#c88a8a" stroke-width="1"/>
<line x1="649.5" y1="181.0" x2="649.5" y2="183.7" stroke="#c88a8a" stroke-width="1"/>
<rect x="648" y="170.0" width="3" height="11.0" fill="#fff" stroke="#c88a8a" stroke-width="1"/>
<line x1="656.5" y1="167.0" x2="656.5" y2="174.0" stroke="#3d8d43" stroke-width="1"/>
<rect x="654.5" y="168.6" width="4" height="4.1" fill="#3d8d43"/>
<line x1="662.5" y1="170.0" x2="662.5" y2="182.4" stroke="#3d8d43" stroke-width="1"/>
<rect x="660.5" y="177.7" width="4" height="3.8" fill="#3d8d43"/>
<line x1="667.5" y1="163.1" x2="667.5" y2="167.2" stroke="#c88a8a" stroke-width="1"/>
<line x1="667.5" y1="183.7" x2="667.5" y2="184.0" stroke="#c88a8a" stroke-width="1"/>
<rect x="666" y="167.2" width="3" height="16.5" fill="#fff" stroke="#c88a8a" stroke-width="1"/>
<line x1="674.5" y1="163.1" x2="674.5" y2="171.3" stroke="#444" stroke-width="1"/>
<line x1="672.5" y1="167.2" x2="676.5" y2="167.2" stroke="#444" stroke-width="1.2"/>
<line x1="680.5" y1="162.2" x2="680.5" y2="164.4" stroke="#c88a8a" stroke-width="1"/>
<line x1="680.5" y1="167.7" x2="680.5" y2="170.0" stroke="#c88a8a" stroke-width="1"/>
<rect x="679" y="164.4" width="3" height="3.3" fill="#fff" stroke="#c88a8a" stroke-width="1"/>
<line x1="686.5" y1="128.6" x2="686.5" y2="132.7" stroke="#c88a8a" stroke-width="1"/>
<line x1="686.5" y1="164.4" x2="686.5" y2="165.0" stroke="#c88a8a" stroke-width="1"/>
<rect x="685" y="132.7" width="3" height="31.7" fill="#fff" stroke="#c88a8a" stroke-width="1"/>
<line x1="692.5" y1="107.1" x2="692.5" y2="128.6" stroke="#c88a8a" stroke-width="1"/>
<line x1="692.5" y1="132.7" x2="692.5" y2="136.9" stroke="#c88a8a" stroke-width="1"/>
<rect x="691" y="128.6" width="3" height="4.1" fill="#fff" stroke="#c88a8a" stroke-width="1"/>
<line x1="698.5" y1="107.1" x2="698.5" y2="117.6" stroke="#c88a8a" stroke-width="1"/>
<line x1="698.5" y1="128.6" x2="698.5" y2="130.0" stroke="#c88a8a" stroke-width="1"/>
<rect x="697" y="117.6" width="3" height="11.0" fill="#fff" stroke="#c88a8a" stroke-width="1"/>
<line x1="704.5" y1="106.5" x2="704.5" y2="187.9" stroke="#3d8d43" stroke-width="1"/>
<rect x="702.5" y="118.0" width="4" height="64.4" fill="#3d8d43"/>
<line x1="710.5" y1="140.9" x2="710.5" y2="156.3" stroke="#c88a8a" stroke-width="1"/>
<line x1="710.5" y1="184.8" x2="710.5" y2="185.0" stroke="#c88a8a" stroke-width="1"/>
<rect x="709" y="156.3" width="3" height="28.5" fill="#fff" stroke="#c88a8a" stroke-width="1"/>
<line x1="717.5" y1="139.3" x2="717.5" y2="142.2" stroke="#c88a8a" stroke-width="1"/>
<line x1="717.5" y1="155.7" x2="717.5" y2="156.0" stroke="#c88a8a" stroke-width="1"/>
<rect x="716" y="142.2" width="3" height="13.5" fill="#fff" stroke="#c88a8a" stroke-width="1"/>
<line x1="723.5" y1="136.4" x2="723.5" y2="149.3" stroke="#3d8d43" stroke-width="1"/>
<rect x="721.5" y="140.2" width="4" height="4.5" fill="#3d8d43"/>
<line x1="728.5" y1="145.0" x2="728.5" y2="154.4" stroke="#444" stroke-width="1"/>
<line x1="726.5" y1="145.0" x2="730.5" y2="145.0" stroke="#444" stroke-width="1.2"/>
<line x1="735.5" y1="136.4" x2="735.5" y2="137.7" stroke="#c88a8a" stroke-width="1"/>
<line x1="735.5" y1="146.0" x2="735.5" y2="147.5" stroke="#c88a8a" stroke-width="1"/>
<rect x="734" y="137.7" width="3" height="8.3" fill="#fff" stroke="#c88a8a" stroke-width="1"/>
<line x1="741.5" y1="136.4" x2="741.5" y2="150.5" stroke="#3d8d43" stroke-width="1"/>
<rect x="739.5" y="138.3" width="4" height="10.3" fill="#3d8d43"/>
<line x1="747.5" y1="136.4" x2="747.5" y2="143.2" stroke="#c88a8a" stroke-width="1"/>
<line x1="747.5" y1="148.6" x2="747.5" y2="154.4" stroke="#c88a8a" stroke-width="1"/>
<rect x="746" y="143.2" width="3" height="5.4" fill="#fff" stroke="#c88a8a" stroke-width="1"/>
<line x1="754.5" y1="122.9" x2="754.5" y2="126.1" stroke="#c88a8a" stroke-width="1"/>
<line x1="754.5" y1="142.8" x2="754.5" y2="143.5" stroke="#c88a8a" stroke-width="1"/>
<rect x="753" y="126.1" width="3" height="16.7" fill="#fff" stroke="#c88a8a" stroke-width="1"/>
<line x1="759.5" y1="106.2" x2="759.5" y2="118.4" stroke="#c88a8a" stroke-width="1"/>
<line x1="759.5" y1="128.7" x2="759.5" y2="129.0" stroke="#c88a8a" stroke-width="1"/>
<rect x="758" y="118.4" width="3" height="10.3" fill="#fff" stroke="#c88a8a" stroke-width="1"/>
<line x1="766.5" y1="118.0" x2="766.5" y2="149.9" stroke="#3d8d43" stroke-width="1"/>
<rect x="764.5" y="119.7" width="4" height="25.0" fill="#3d8d43"/>
<line x1="772.5" y1="109.0" x2="772.5" y2="124.2" stroke="#c88a8a" stroke-width="1"/>
<line x1="772.5" y1="145.4" x2="772.5" y2="145.5" stroke="#c88a8a" stroke-width="1"/>
<rect x="771" y="124.2" width="3" height="21.2" fill="#fff" stroke="#c88a8a" stroke-width="1"/>
<line x1="778.5" y1="91.0" x2="778.5" y2="100.7" stroke="#c88a8a" stroke-width="1"/>
<line x1="778.5" y1="122.9" x2="778.5" y2="123.0" stroke="#c88a8a" stroke-width="1"/>
<rect x="777" y="100.7" width="3" height="22.2" fill="#fff" stroke="#c88a8a" stroke-width="1"/>
<path d="M12.4,272.0 C13.7,272.3 17.7,273.3 20.0,274.0 C22.3,274.7 23.9,276.7 26.2,276.0 C28.5,275.3 31.5,272.1 34.0,270.0 C36.5,267.9 39.1,265.5 41.4,263.7 C43.7,261.9 45.7,260.5 48.0,259.0 C50.3,257.5 52.7,256.7 55.0,254.5 C57.3,252.3 59.2,249.3 62.0,246.0 C64.8,242.7 68.5,238.3 71.5,234.6 C74.5,230.9 77.2,227.2 80.0,224.0 C82.8,220.8 85.8,217.6 88.1,215.6 C90.4,213.6 92.3,212.8 94.0,212.0 C95.7,211.2 96.3,211.0 98.0,210.6 C99.7,210.2 102.1,209.8 104.0,209.5 C105.9,209.2 107.6,208.9 109.6,209.0 C111.6,209.1 114.5,210.1 116.2,209.8 C117.9,209.6 118.7,208.4 120.0,207.5 C121.3,206.6 122.0,205.7 124.2,204.5 C126.4,203.3 130.3,201.8 133.4,200.4 C136.5,199.0 139.8,197.7 142.6,196.2 C145.3,194.7 147.6,193.2 149.9,191.6 C152.2,190.0 154.2,188.3 156.3,186.6 C158.5,184.8 160.8,182.5 162.8,181.1 C164.8,179.7 166.5,178.5 168.3,178.3 C170.1,178.1 172.0,179.0 173.8,179.7 C175.6,180.4 177.4,181.4 179.3,182.5 C181.2,183.6 183.5,184.8 185.0,186.0 C186.5,187.2 187.2,188.4 188.5,190.0 C189.8,191.6 191.4,193.6 193.0,195.3 C194.6,197.1 196.3,198.6 198.0,200.5 C199.7,202.4 201.5,204.9 203.2,207.0 C204.9,209.1 206.3,210.8 208.0,213.0 C209.7,215.2 211.5,218.1 213.5,220.3 C215.5,222.5 217.7,224.4 220.0,226.0 C222.3,227.6 225.3,228.6 227.6,229.6 C229.9,230.6 231.7,231.3 234.0,232.0 C236.3,232.7 239.1,233.4 241.4,233.8 C243.7,234.2 245.7,234.2 248.0,234.5 C250.3,234.8 252.7,234.8 255.0,235.5 C257.3,236.2 259.7,237.7 262.0,239.0 C264.3,240.3 266.7,241.8 269.0,243.4 C271.3,245.0 273.7,246.7 276.0,248.5 C278.3,250.3 280.4,252.3 282.7,254.4 C284.9,256.5 287.2,258.7 289.5,261.0 C291.8,263.3 294.2,266.3 296.5,268.2 C298.8,270.1 300.8,271.1 303.0,272.5 C305.2,273.9 308.1,275.4 310.0,276.5 C311.9,277.6 312.7,278.1 314.7,278.8 C316.7,279.6 319.6,281.1 322.0,281.0 C324.4,280.9 326.5,279.1 329.0,278.0 C331.5,276.9 334.3,275.5 336.8,274.4 C339.3,273.3 341.6,272.4 344.0,271.5 C346.4,270.6 349.2,269.9 351.5,269.3 C353.8,268.7 355.6,268.4 358.0,268.0 C360.4,267.6 363.7,267.3 366.2,267.0 C368.7,266.7 370.6,266.5 373.0,266.3 C375.4,266.1 378.4,265.5 380.9,265.6 C383.4,265.7 386.0,266.9 388.2,267.0 C390.4,267.1 392.3,266.6 394.0,266.5 C395.7,266.4 396.5,266.7 398.3,266.1 C400.1,265.5 402.8,264.1 405.0,263.0 C407.2,261.9 409.6,261.0 411.5,259.5 C413.4,258.0 414.8,256.5 416.5,254.0 C418.2,251.5 419.9,247.8 421.5,244.6 C423.1,241.4 424.4,238.6 426.0,235.0 C427.6,231.4 429.7,226.4 431.4,223.1 C433.1,219.8 434.4,217.8 436.0,215.0 C437.6,212.2 439.6,209.2 441.3,206.5 C443.0,203.8 444.1,201.8 446.0,199.0 C447.9,196.2 450.9,192.5 452.9,190.0 C454.9,187.5 456.2,185.9 458.0,184.0 C459.8,182.1 461.9,180.1 463.4,178.6 C464.9,177.1 465.6,176.2 467.0,175.0 C468.4,173.8 470.4,172.5 471.7,171.7 C473.0,170.9 473.9,170.5 475.0,170.2 C476.1,169.9 477.3,169.0 478.6,169.8 C479.9,170.6 481.4,172.8 483.0,175.0 C484.6,177.2 486.4,180.1 488.2,182.7 C490.0,185.3 492.1,188.0 494.0,190.5 C495.9,193.0 497.5,195.6 499.3,197.9 C501.1,200.2 503.2,202.4 505.0,204.5 C506.8,206.6 508.3,208.1 510.0,210.3 C511.7,212.6 513.0,215.0 515.0,218.0 C517.0,221.0 520.0,225.9 522.0,228.2 C524.0,230.4 525.2,230.6 527.0,231.5 C528.8,232.4 531.2,233.2 533.0,233.7 C534.8,234.2 536.1,234.3 538.0,234.5 C539.9,234.7 542.1,235.2 544.1,235.1 C546.1,235.0 548.2,234.4 550.0,234.0 C551.8,233.6 553.4,233.0 555.1,232.4 C556.8,231.8 557.7,231.6 560.0,230.3 C562.3,229.0 565.8,226.7 568.9,224.8 C572.0,222.9 575.4,220.6 578.6,218.7 C581.8,216.8 585.3,215.4 588.0,213.5 C590.7,211.6 592.6,209.2 594.9,207.5 C597.2,205.8 599.6,204.3 601.9,203.0 C604.2,201.7 606.6,200.8 608.9,199.6 C611.2,198.4 613.6,196.9 615.9,195.8 C618.2,194.7 619.7,193.8 622.8,192.8 C625.9,191.8 631.1,190.6 634.5,189.6 C637.9,188.6 639.9,187.9 643.0,187.0 C646.1,186.1 649.9,184.9 653.1,184.0 C656.3,183.1 658.9,182.3 662.0,181.5 C665.1,180.7 669.0,180.3 671.8,179.3 C674.6,178.3 676.5,177.1 679.0,175.5 C681.5,173.9 684.5,171.7 686.7,170.0 C688.9,168.3 690.4,166.9 692.0,165.5 C693.6,164.1 695.2,162.8 696.5,161.7 C697.8,160.6 698.1,159.5 700.0,158.9 C701.9,158.3 705.6,158.7 707.7,158.3 C709.9,157.9 711.0,157.2 712.9,156.3 C714.8,155.4 717.2,154.2 719.3,153.1 C721.4,152.0 723.3,151.0 725.7,149.9 C728.1,148.8 731.4,147.6 733.5,146.7 C735.6,145.8 736.5,145.1 738.6,144.7 C740.7,144.3 742.9,144.5 746.3,144.5 C749.7,144.5 755.8,145.1 759.2,144.5 C762.6,143.9 764.3,142.4 766.9,140.9 C769.5,139.4 771.8,137.3 774.6,135.7 C777.4,134.1 781.1,132.3 783.7,131.2 C786.3,130.1 789.0,129.6 790.1,129.3" fill="none" stroke="#bf68c4" stroke-width="1"/>
<polyline points="12.0,272.0 13.8,273.4 20.0,278.0 26.0,282.0 33.0,276.0 41.4,266.5 46.0,256.0 51.0,241.7 53.5,232.0 56.2,224.5 59.5,219.0 63.3,214.4 69.3,209.8 75.4,205.0 79.8,205.7 88.1,207.3 96.4,209.8 104.6,212.8 112.1,212.3 117.9,208.2 124.2,199.5 133.4,188.0 142.6,178.5 148.0,175.1 153.6,173.0 160.0,169.3 163.7,169.6 168.3,173.3 173.8,179.7 179.3,188.5 184.0,198.2 190.0,213.0 195.9,224.7 203.2,232.0 210.6,236.5 213.8,239.0 220.0,238.0 227.6,235.0 234.0,233.0 241.4,231.0 246.0,231.5 252.4,232.4 258.0,235.0 263.4,239.3 270.0,247.0 277.2,257.2 284.0,267.0 291.0,276.5 296.0,283.0 300.0,288.0 305.0,288.5 310.0,286.0 319.1,283.2 327.0,274.0 336.8,264.1 344.1,261.9 350.7,257.5 357.4,264.1 363.2,267.8 369.1,269.3 376.5,272.2 382.4,273.7 391.2,270.7 395.0,267.8 403.0,258.2 404.9,256.2 411.5,243.0 418.2,226.4 424.8,209.9 431.4,190.0 437.0,177.0 444.0,166.2 451.0,160.7 457.0,161.0 463.4,163.4 469.0,166.0 474.4,170.3 479.0,178.0 482.7,186.9 491.0,206.2 497.0,217.0 503.2,225.6 508.0,230.0 513.8,233.7 520.0,234.0 527.6,233.7 535.0,235.0 541.4,236.0 547.0,236.0 552.4,235.1 556.0,233.0 560.7,228.2 564.0,221.0 569.3,212.8 572.5,206.0 576.8,199.8 582.0,198.5 585.0,197.1 594.3,194.8 601.8,197.1 607.3,194.8 612.9,192.5 618.5,192.9 625.0,188.3 631.6,183.6 637.1,180.4 642.7,181.3 650.2,175.2 655.8,176.2 662.3,178.0 668.0,175.5 675.5,171.9 680.0,169.5 685.5,163.0 690.0,156.3 698.2,143.4 703.2,145.0 710.3,143.2 716.7,146.0 723.2,149.9 729.0,154.8 734.7,146.7 741.2,143.7 747.6,144.5 754.0,140.2 760.5,135.7 766.9,136.4 773.4,129.3 778.5,122.9 783.7,121.6" fill="none" stroke="#2a2a2a" stroke-width="1"/>
<line x1="14.5" y1="435.5" x2="14.5" y2="441.0" stroke="#8ba58c" stroke-width="1"/>
<line x1="20.5" y1="435.5" x2="20.5" y2="440.5" stroke="#8ba58c" stroke-width="1"/>
<line x1="26.5" y1="435.5" x2="26.5" y2="440.5" stroke="#8ba58c" stroke-width="1"/>
<line x1="32.5" y1="435.5" x2="32.5" y2="436.5" stroke="#8ba58c" stroke-width="1"/>
<line x1="39.5" y1="430.4" x2="39.5" y2="435.5" stroke="#c9aaaa" stroke-width="1"/>
<line x1="45.5" y1="426.6" x2="45.5" y2="435.5" stroke="#c9aaaa" stroke-width="1"/>
<line x1="51.5" y1="419.0" x2="51.5" y2="435.5" stroke="#c9aaaa" stroke-width="1"/>
<line x1="57.5" y1="417.3" x2="57.5" y2="435.5" stroke="#c9aaaa" stroke-width="1"/>
<line x1="63.5" y1="416.4" x2="63.5" y2="435.5" stroke="#c9aaaa" stroke-width="1"/>
<line x1="69.5" y1="417.0" x2="69.5" y2="435.5" stroke="#c9aaaa" stroke-width="1"/>
<line x1="75.5" y1="418.8" x2="75.5" y2="435.5" stroke="#c9aaaa" stroke-width="1"/>
<line x1="81.5" y1="422.5" x2="81.5" y2="435.5" stroke="#c9aaaa" stroke-width="1"/>
<line x1="88.5" y1="423.8" x2="88.5" y2="435.5" stroke="#c9aaaa" stroke-width="1"/>
<line x1="94.5" y1="426.5" x2="94.5" y2="435.5" stroke="#c9aaaa" stroke-width="1"/>
<line x1="100.5" y1="428.7" x2="100.5" y2="435.5" stroke="#c9aaaa" stroke-width="1"/>
<line x1="106.5" y1="431.5" x2="106.5" y2="435.5" stroke="#c9aaaa" stroke-width="1"/>
<line x1="112.5" y1="430.5" x2="112.5" y2="435.5" stroke="#c9aaaa" stroke-width="1"/>
<line x1="118.5" y1="429.5" x2="118.5" y2="435.5" stroke="#c9aaaa" stroke-width="1"/>
<line x1="124.5" y1="428.0" x2="124.5" y2="435.5" stroke="#c9aaaa" stroke-width="1"/>
<line x1="130.5" y1="427.5" x2="130.5" y2="435.5" stroke="#c9aaaa" stroke-width="1"/>
<line x1="136.5" y1="427.5" x2="136.5" y2="435.5" stroke="#c9aaaa" stroke-width="1"/>
<line x1="142.5" y1="427.8" x2="142.5" y2="435.5" stroke="#c9aaaa" stroke-width="1"/>
<line x1="149.5" y1="428.0" x2="149.5" y2="435.5" stroke="#c9aaaa" stroke-width="1"/>
<line x1="155.5" y1="428.0" x2="155.5" y2="435.5" stroke="#c9aaaa" stroke-width="1"/>
<line x1="161.5" y1="429.5" x2="161.5" y2="435.5" stroke="#c9aaaa" stroke-width="1"/>
<line x1="167.5" y1="433.5" x2="167.5" y2="435.5" stroke="#c9aaaa" stroke-width="1"/>
<line x1="172.5" y1="435.5" x2="172.5" y2="438.7" stroke="#8ba58c" stroke-width="1"/>
<line x1="179.5" y1="435.5" x2="179.5" y2="444.5" stroke="#8ba58c" stroke-width="1"/>
<line x1="185.5" y1="435.5" x2="185.5" y2="447.5" stroke="#8ba58c" stroke-width="1"/>
<line x1="191.5" y1="435.5" x2="191.5" y2="453.7" stroke="#8ba58c" stroke-width="1"/>
<line x1="198.5" y1="435.5" x2="198.5" y2="452.5" stroke="#8ba58c" stroke-width="1"/>
<line x1="203.5" y1="435.5" x2="203.5" y2="453.0" stroke="#8ba58c" stroke-width="1"/>
<line x1="210.5" y1="435.5" x2="210.5" y2="453.7" stroke="#8ba58c" stroke-width="1"/>
<line x1="216.5" y1="435.5" x2="216.5" y2="453.0" stroke="#8ba58c" stroke-width="1"/>
<line x1="222.5" y1="435.5" x2="222.5" y2="451.2" stroke="#8ba58c" stroke-width="1"/>
<line x1="228.5" y1="435.5" x2="228.5" y2="447.5" stroke="#8ba58c" stroke-width="1"/>
<line x1="234.5" y1="435.5" x2="234.5" y2="445.0" stroke="#8ba58c" stroke-width="1"/>
<line x1="240.5" y1="435.5" x2="240.5" y2="441.0" stroke="#8ba58c" stroke-width="1"/>
<line x1="246.5" y1="435.5" x2="246.5" y2="441.0" stroke="#8ba58c" stroke-width="1"/>
<line x1="252.5" y1="435.5" x2="252.5" y2="442.5" stroke="#8ba58c" stroke-width="1"/>
<line x1="259.5" y1="435.5" x2="259.5" y2="443.7" stroke="#8ba58c" stroke-width="1"/>
<line x1="264.5" y1="435.5" x2="264.5" y2="445.0" stroke="#8ba58c" stroke-width="1"/>
<line x1="271.5" y1="435.5" x2="271.5" y2="444.5" stroke="#8ba58c" stroke-width="1"/>
<line x1="277.5" y1="435.5" x2="277.5" y2="446.0" stroke="#8ba58c" stroke-width="1"/>
<line x1="283.5" y1="435.5" x2="283.5" y2="448.0" stroke="#8ba58c" stroke-width="1"/>
<line x1="289.5" y1="435.5" x2="289.5" y2="448.7" stroke="#8ba58c" stroke-width="1"/>
<line x1="296.5" y1="435.5" x2="296.5" y2="448.0" stroke="#8ba58c" stroke-width="1"/>
<line x1="301.5" y1="435.5" x2="301.5" y2="446.0" stroke="#8ba58c" stroke-width="1"/>
<line x1="308.5" y1="435.5" x2="308.5" y2="442.5" stroke="#8ba58c" stroke-width="1"/>
<line x1="313.5" y1="435.5" x2="313.5" y2="439.5" stroke="#8ba58c" stroke-width="1"/>
<line x1="320.5" y1="435.5" x2="320.5" y2="437.5" stroke="#8ba58c" stroke-width="1"/>
<line x1="326.5" y1="433.0" x2="326.5" y2="435.5" stroke="#c9aaaa" stroke-width="1"/>
<line x1="332.5" y1="428.0" x2="332.5" y2="435.5" stroke="#c9aaaa" stroke-width="1"/>
<line x1="338.5" y1="428.7" x2="338.5" y2="435.5" stroke="#c9aaaa" stroke-width="1"/>
<line x1="344.5" y1="428.7" x2="344.5" y2="435.5" stroke="#c9aaaa" stroke-width="1"/>
<line x1="350.5" y1="428.7" x2="350.5" y2="435.5" stroke="#c9aaaa" stroke-width="1"/>
<line x1="356.5" y1="429.5" x2="356.5" y2="435.5" stroke="#c9aaaa" stroke-width="1"/>
<line x1="362.5" y1="430.0" x2="362.5" y2="435.5" stroke="#c9aaaa" stroke-width="1"/>
<line x1="368.5" y1="431.2" x2="368.5" y2="435.5" stroke="#c9aaaa" stroke-width="1"/>
<line x1="374.5" y1="432.0" x2="374.5" y2="435.5" stroke="#c9aaaa" stroke-width="1"/>
<line x1="381.5" y1="432.5" x2="381.5" y2="435.5" stroke="#c9aaaa" stroke-width="1"/>
<line x1="387.5" y1="432.0" x2="387.5" y2="435.5" stroke="#c9aaaa" stroke-width="1"/>
<line x1="393.5" y1="430.0" x2="393.5" y2="435.5" stroke="#c9aaaa" stroke-width="1"/>
<line x1="399.5" y1="427.5" x2="399.5" y2="435.5" stroke="#c9aaaa" stroke-width="1"/>
<line x1="405.5" y1="426.2" x2="405.5" y2="435.5" stroke="#c9aaaa" stroke-width="1"/>
<line x1="411.5" y1="421.2" x2="411.5" y2="435.5" stroke="#c9aaaa" stroke-width="1"/>
<line x1="418.5" y1="418.0" x2="418.5" y2="435.5" stroke="#c9aaaa" stroke-width="1"/>
<line x1="424.5" y1="412.5" x2="424.5" y2="435.5" stroke="#c9aaaa" stroke-width="1"/>
<line x1="430.5" y1="407.5" x2="430.5" y2="435.5" stroke="#c9aaaa" stroke-width="1"/>
<line x1="436.5" y1="408.0" x2="436.5" y2="435.5" stroke="#c9aaaa" stroke-width="1"/>
<line x1="442.5" y1="408.7" x2="442.5" y2="435.5" stroke="#c9aaaa" stroke-width="1"/>
<line x1="448.5" y1="411.2" x2="448.5" y2="435.5" stroke="#c9aaaa" stroke-width="1"/>
<line x1="454.5" y1="416.2" x2="454.5" y2="435.5" stroke="#c9aaaa" stroke-width="1"/>
<line x1="460.5" y1="421.2" x2="460.5" y2="435.5" stroke="#c9aaaa" stroke-width="1"/>
<line x1="467.5" y1="423.7" x2="467.5" y2="435.5" stroke="#c9aaaa" stroke-width="1"/>
<line x1="472.5" y1="428.7" x2="472.5" y2="435.5" stroke="#c9aaaa" stroke-width="1"/>
<line x1="479.5" y1="434.0" x2="479.5" y2="435.5" stroke="#c9aaaa" stroke-width="1"/>
<line x1="484.5" y1="435.5" x2="484.5" y2="443.7" stroke="#8ba58c" stroke-width="1"/>
<line x1="491.5" y1="435.5" x2="491.5" y2="447.5" stroke="#8ba58c" stroke-width="1"/>
<line x1="497.5" y1="435.5" x2="497.5" y2="450.0" stroke="#8ba58c" stroke-width="1"/>
<line x1="503.5" y1="435.5" x2="503.5" y2="453.7" stroke="#8ba58c" stroke-width="1"/>
<line x1="509.5" y1="435.5" x2="509.5" y2="452.5" stroke="#8ba58c" stroke-width="1"/>
<line x1="516.5" y1="435.5" x2="516.5" y2="452.5" stroke="#8ba58c" stroke-width="1"/>
<line x1="521.5" y1="435.5" x2="521.5" y2="450.0" stroke="#8ba58c" stroke-width="1"/>
<line x1="528.5" y1="435.5" x2="528.5" y2="448.7" stroke="#8ba58c" stroke-width="1"/>
<line x1="534.5" y1="435.5" x2="534.5" y2="449.5" stroke="#8ba58c" stroke-width="1"/>
<line x1="540.5" y1="435.5" x2="540.5" y2="447.5" stroke="#8ba58c" stroke-width="1"/>
<line x1="546.5" y1="435.5" x2="546.5" y2="447.5" stroke="#8ba58c" stroke-width="1"/>
<line x1="552.5" y1="435.5" x2="552.5" y2="441.2" stroke="#8ba58c" stroke-width="1"/>
<line x1="559.5" y1="435.5" x2="559.5" y2="437.5" stroke="#8ba58c" stroke-width="1"/>
<line x1="564.5" y1="434.0" x2="564.5" y2="435.5" stroke="#c9aaaa" stroke-width="1"/>
<line x1="571.5" y1="431.2" x2="571.5" y2="435.5" stroke="#c9aaaa" stroke-width="1"/>
<line x1="577.5" y1="431.2" x2="577.5" y2="435.5" stroke="#c9aaaa" stroke-width="1"/>
<line x1="583.5" y1="431.2" x2="583.5" y2="435.5" stroke="#c9aaaa" stroke-width="1"/>
<line x1="589.5" y1="430.5" x2="589.5" y2="435.5" stroke="#c9aaaa" stroke-width="1"/>
<line x1="595.5" y1="430.5" x2="595.5" y2="435.5" stroke="#c9aaaa" stroke-width="1"/>
<line x1="601.5" y1="430.0" x2="601.5" y2="435.5" stroke="#c9aaaa" stroke-width="1"/>
<line x1="608.5" y1="430.0" x2="608.5" y2="435.5" stroke="#c9aaaa" stroke-width="1"/>
<line x1="614.5" y1="429.5" x2="614.5" y2="435.5" stroke="#c9aaaa" stroke-width="1"/>
<line x1="620.5" y1="430.0" x2="620.5" y2="435.5" stroke="#c9aaaa" stroke-width="1"/>
<line x1="626.5" y1="429.5" x2="626.5" y2="435.5" stroke="#c9aaaa" stroke-width="1"/>
<line x1="632.5" y1="428.5" x2="632.5" y2="435.5" stroke="#c9aaaa" stroke-width="1"/>
<line x1="638.5" y1="430.0" x2="638.5" y2="435.5" stroke="#c9aaaa" stroke-width="1"/>
<line x1="643.5" y1="431.3" x2="643.5" y2="435.5" stroke="#c9aaaa" stroke-width="1"/>
<line x1="650.5" y1="431.3" x2="650.5" y2="435.5" stroke="#c9aaaa" stroke-width="1"/>
<line x1="656.5" y1="432.1" x2="656.5" y2="435.5" stroke="#c9aaaa" stroke-width="1"/>
<line x1="662.5" y1="432.6" x2="662.5" y2="435.5" stroke="#c9aaaa" stroke-width="1"/>
<line x1="669.5" y1="432.6" x2="669.5" y2="435.5" stroke="#c9aaaa" stroke-width="1"/>
<line x1="675.5" y1="432.6" x2="675.5" y2="435.5" stroke="#c9aaaa" stroke-width="1"/>
<line x1="681.5" y1="431.3" x2="681.5" y2="435.5" stroke="#c9aaaa" stroke-width="1"/>
<line x1="687.5" y1="429.5" x2="687.5" y2="435.5" stroke="#c9aaaa" stroke-width="1"/>
<line x1="693.5" y1="426.8" x2="693.5" y2="435.5" stroke="#c9aaaa" stroke-width="1"/>
<line x1="699.5" y1="424.7" x2="699.5" y2="435.5" stroke="#c9aaaa" stroke-width="1"/>
<line x1="705.5" y1="432.1" x2="705.5" y2="435.5" stroke="#c9aaaa" stroke-width="1"/>
<line x1="711.5" y1="433.5" x2="711.5" y2="435.5" stroke="#c9aaaa" stroke-width="1"/>
<line x1="717.5" y1="434.0" x2="717.5" y2="435.5" stroke="#c9aaaa" stroke-width="1"/>
<line x1="724.5" y1="433.5" x2="724.5" y2="435.5" stroke="#c9aaaa" stroke-width="1"/>
<line x1="730.5" y1="434.0" x2="730.5" y2="435.5" stroke="#c9aaaa" stroke-width="1"/>
<line x1="736.5" y1="434.0" x2="736.5" y2="435.5" stroke="#c9aaaa" stroke-width="1"/>
<line x1="742.5" y1="433.5" x2="742.5" y2="435.5" stroke="#c9aaaa" stroke-width="1"/>
<line x1="748.5" y1="434.0" x2="748.5" y2="435.5" stroke="#c9aaaa" stroke-width="1"/>
<line x1="754.5" y1="433.5" x2="754.5" y2="435.5" stroke="#c9aaaa" stroke-width="1"/>
<line x1="760.5" y1="433.5" x2="760.5" y2="435.5" stroke="#c9aaaa" stroke-width="1"/>
<line x1="766.5" y1="434.0" x2="766.5" y2="435.5" stroke="#c9aaaa" stroke-width="1"/>
<line x1="772.5" y1="433.5" x2="772.5" y2="435.5" stroke="#c9aaaa" stroke-width="1"/>
<line x1="778.5" y1="433.0" x2="778.5" y2="435.5" stroke="#c9aaaa" stroke-width="1"/>
<line x1="784.5" y1="433.5" x2="784.5" y2="435.5" stroke="#c9aaaa" stroke-width="1"/>
<line x1="791.5" y1="433.5" x2="791.5" y2="435.5" stroke="#c9aaaa" stroke-width="1"/>
<polyline points="12.5,443.7 26.2,445.2 30.0,445.0 45.0,441.2 62.5,435.0 80.0,428.7 100.0,425.0 117.5,423.7 131.0,421.3 137.5,420.5 150.0,419.0 160.0,417.0 175.0,418.0 190.0,422.5 205.0,427.5 214.7,431.2 222.5,433.7 235.0,437.0 247.5,438.7 260.0,440.5 272.5,443.0 285.0,447.0 297.5,450.0 310.0,452.0 320.0,453.0 335.0,450.0 350.0,447.5 365.0,445.5 382.5,444.5 397.5,442.5 412.5,438.7 420.0,436.2 432.5,428.7 445.0,422.0 457.5,417.5 470.0,414.5 480.0,413.7 495.0,418.7 510.0,423.7 525.0,428.7 540.0,432.5 550.0,435.0 560.0,436.2 575.0,434.5 595.0,432.0 615.0,430.0 630.0,426.0 656.7,424.7 683.3,423.3 699.3,420.7 723.3,420.1 750.0,420.7 776.6,419.3 790.0,419.3" fill="none" stroke="#c070c8" stroke-width="1"/>
<polyline points="12.2,445.2 22.5,446.5 32.5,444.5 45.0,437.5 52.4,432.1 57.5,428.7 62.9,426.4 70.0,424.2 82.5,422.0 90.8,422.0 95.0,423.0 104.8,423.1 107.5,423.7 113.5,422.5 120.0,420.5 125.7,419.0 132.5,417.0 137.9,416.4 145.0,415.5 150.0,415.3 158.7,413.7 167.5,416.2 180.0,423.7 192.5,432.5 205.0,437.5 214.7,440.0 222.5,443.0 235.0,440.0 247.5,440.5 260.0,443.7 272.5,447.5 285.0,451.2 295.0,454.5 310.0,454.5 320.0,452.5 332.5,446.2 345.0,445.0 360.0,443.7 380.0,444.5 395.0,440.0 410.0,432.5 420.0,425.0 424.7,423.7 432.5,413.7 445.0,408.7 457.5,408.7 470.0,411.2 480.0,416.2 490.0,422.5 502.5,428.7 515.0,435.0 527.5,436.2 537.5,438.7 545.0,440.0 555.0,437.0 565.0,433.7 575.0,432.0 590.0,430.0 605.0,428.7 620.0,426.2 630.0,424.7 646.0,423.9 662.0,424.7 680.6,422.5 690.0,419.0 698.8,415.3 708.6,419.9 723.3,419.3 742.0,420.7 758.0,418.8 768.6,420.7 779.3,418.0 790.0,419.3" fill="none" stroke="#3a3a3a" stroke-width="1"/>
<clipPath id="kdc"><rect x="0" y="461" width="859" height="69.6"/></clipPath>
<g clip-path="url(#kdc)">
<polyline points="11.2,514.5 25.0,518.7 40.0,508.7 55.0,496.2 70.0,489.5 82.5,487.5 95.0,491.2 105.0,497.5 112.5,502.0 125.0,499.5 140.0,498.7 155.0,495.0 165.0,493.7 175.0,501.2 190.0,515.0 205.0,519.5 214.7,520.5 225.0,520.5 247.5,507.5 260.0,511.2 275.0,519.5 290.0,527.5 300.0,528.7 320.0,521.2 335.0,506.2 350.0,503.7 367.5,507.5 385.0,515.0 400.0,506.2 415.0,497.5 424.7,492.5 432.5,487.5 447.5,482.0 462.5,483.0 472.5,487.5 485.0,503.7 500.0,515.0 515.0,524.5 527.5,526.2 540.0,525.5 552.5,517.5 565.0,503.7 575.0,496.2 590.0,492.0 600.0,489.5 612.5,491.2 622.5,493.7 634.7,492.5 660.0,492.4 678.5,485.5 694.7,485.5 720.0,492.0 748.0,498.2 768.9,494.7 793.2,497.0" fill="none" stroke="#c070c8" stroke-width="1"/>
<polyline points="11.2,517.5 21.2,526.2 31.2,508.7 41.2,498.7 51.2,487.5 62.5,485.5 75.0,485.0 85.0,487.5 95.0,493.7 105.0,507.5 111.2,509.5 117.5,500.0 125.0,498.7 135.0,498.2 150.0,495.5 160.0,490.5 167.5,495.0 175.0,512.5 182.5,518.7 191.2,525.5 200.0,522.0 214.7,522.0 221.2,522.0 232.5,511.2 240.0,501.2 246.2,500.0 252.5,513.0 262.5,520.0 270.0,521.2 277.5,526.2 286.2,531.2 293.7,531.2 302.5,528.7 312.5,518.7 318.7,519.5 325.0,506.2 332.0,495.5 340.0,500.0 347.5,502.0 360.0,506.2 370.0,511.2 380.0,519.5 387.5,516.2 393.7,503.7 405.0,492.0 417.5,492.5 424.7,486.2 430.0,482.0 442.5,478.7 455.0,482.0 465.0,485.5 472.5,492.5 480.0,507.5 485.0,516.2 495.0,521.2 502.5,526.2 510.0,530.0 517.5,528.7 525.0,525.7 533.7,529.5 540.0,523.0 546.2,522.0 552.5,506.2 558.7,502.5 565.0,492.5 571.2,488.0 580.0,489.5 587.5,490.0 595.0,487.0 606.2,492.5 612.5,489.5 618.7,501.2 625.0,492.5 632.5,490.0 640.7,492.3 651.3,489.7 662.0,492.3 671.6,487.3 678.5,483.2 685.5,482.0 694.7,484.3 702.9,487.3 715.0,490.0 730.0,494.0 748.0,499.4 757.3,497.0 768.9,491.3 775.8,495.9 785.1,499.4 793.2,498.2" fill="none" stroke="#3a3a3a" stroke-width="1"/>
</g>
<!-- title -->
<text x="375.3" y="74.8" font-family="'Liberation Serif',serif" font-size="21" fill="#1a1a1a" textLength="30.8" lengthAdjust="spacingAndGlyphs">DXY</text>
<text x="420.2" y="74.8" font-family="'Liberation Serif',serif" font-size="21" fill="#1a1a1a" textLength="11.6" lengthAdjust="spacingAndGlyphs">2</text>
<text x="437.6" y="76" font-family="'Noto Sans CJK SC',sans-serif" font-weight="400" font-size="20.2" fill="#1a1a1a" textLength="91" lengthAdjust="spacingAndGlyphs">小时走势</text>

<!-- right axis labels -->
<g class="ax">
<text x="816.0" y="119.0">93.00</text>
<text x="816.0" y="159.0">92.80</text>
<text x="816.0" y="199.0">92.60</text>
<text x="816.0" y="239.0">92.40</text>
<text x="816.0" y="279.0">92.20</text>
<text x="816.0" y="319.0">92.00</text>
<text x="816.0" y="359.0">91.80</text>
<text x="820.0" y="411.3">0.13</text>
<text x="820.0" y="437.2">0.01</text>
<text x="815.6" y="458.5">-0.11</text>
<text x="816.5" y="489.0">80.00</text>
<text x="816.5" y="508.5">50.00</text>
<text x="816.5" y="529.0">20.00</text>
</g>

<!-- annotation red lines -->
<rect x="634" y="86.6" width="159" height="2.1" fill="#c44a4a"/>
<rect x="716" y="155.6" width="79" height="2.8" fill="#d24848"/>

<!-- labels -->
<text x="743.6" y="97.9" font-family="'Noto Sans Mono CJK SC',monospace" font-size="8.4" fill="#b0804c" textLength="20.8" lengthAdjust="spacingAndGlyphs">93.12</text>
<path d="M767.5,93.8 L776,90.6" stroke="#b0804c" stroke-width="0.9" fill="none"/>
<path d="M776.5,90.4 L772.4,90.3 L774.0,93.0 Z" fill="#b0804c"/>
<text x="36.8" y="311.2" font-family="'Noto Sans Mono CJK SC',monospace" font-size="8.4" fill="#b0804c" textLength="21.5" lengthAdjust="spacingAndGlyphs">92.01</text>
<path d="M27,313.5 L36,309.5" stroke="#b0804c" stroke-width="0.9" fill="none"/>
<path d="M26.5,313.6 L30.3,313.9 L29.2,311.2 Z" fill="#b0804c"/>

<rect x="610" y="112" width="62" height="5" fill="#fff"/>
<text x="616.5" y="116.3" font-family="'Liberation Sans','Noto Sans CJK SC',sans-serif" font-weight="500" font-size="12.5" fill="#b24a50" textLength="44.5" lengthAdjust="spacingAndGlyphs">压力93.2</text>
<text x="736" y="189.6" font-family="'Liberation Sans','Noto Sans CJK SC',sans-serif" font-weight="500" font-size="12.5" fill="#d04c58" textLength="45" lengthAdjust="spacingAndGlyphs">支撑92.8</text>

<!-- arrows -->
<polygon points="802.9,104.3 805.8,122.4 799.8,116.9 793.7,127.4 784.3,121.3 790.9,112 783.8,108.9" fill="#fff" stroke="#d42222" stroke-width="2" stroke-linejoin="miter"/>
<polygon points="812.4,96 837.3,100.4 838.4,91.6 851,109.8 832.8,123 834,114.2 810.8,110.9" fill="#fff" fill-opacity="0.85" stroke="#d42222" stroke-width="2" stroke-linejoin="miter"/>

<!-- MACD header -->
<text x="11.9" y="401.6" font-family="'Noto Sans Mono CJK SC',monospace" font-size="8.2" fill="#a552c0" textLength="31" lengthAdjust="spacingAndGlyphs">:A:0.076</text>
<text x="47.8" y="403.2" font-family="'DejaVu Sans',sans-serif" font-size="10.5" fill="#a552c0">↑</text>
<text x="56.8" y="401.6" font-family="'Noto Sans Mono CJK SC',monospace" font-size="8.4" fill="#8a8a8a" textLength="42.8" lengthAdjust="spacingAndGlyphs">MACD:0.005</text>
<text x="103.4" y="403.2" font-family="'DejaVu Sans',sans-serif" font-size="10.5" fill="#8a8a8a">↓</text>

<g font-family="'Noto Sans CJK SC',sans-serif" font-size="9" fill="#555">
<text x="690.6" y="402.5" textLength="26.2" lengthAdjust="spacingAndGlyphs">改参数</text>
<text x="723" y="402.5" textLength="26" lengthAdjust="spacingAndGlyphs">加指标</text>
<text x="755" y="402.5" textLength="26" lengthAdjust="spacingAndGlyphs">换指标</text>
<text x="690.6" y="473" textLength="26.2" lengthAdjust="spacingAndGlyphs">改参数</text>
<text x="723" y="473" textLength="26" lengthAdjust="spacingAndGlyphs">加指标</text>
<text x="755" y="473" textLength="26" lengthAdjust="spacingAndGlyphs">换指标</text>
</g>
<rect x="789" y="394.8" width="9" height="9" fill="none" stroke="#999" stroke-width="0.8"/>
<path d="M791,396.8 L796,401.8 M796,396.8 L791,401.8" stroke="#777" stroke-width="0.8"/>
<rect x="789" y="465.2" width="9" height="9" fill="none" stroke="#999" stroke-width="0.8"/>
<path d="M791,467.2 L796,472.2 M796,467.2 L791,472.2" stroke="#777" stroke-width="0.8"/>

<!-- KD header -->
<text x="11.6" y="472.4" font-family="'Liberation Sans',sans-serif" font-size="8.5" fill="#8a4e9e">d</text>
<text x="20.6" y="475.2" font-family="'DejaVu Sans',sans-serif" font-size="11.5" fill="#9a50b0">↓</text>

<!-- KD annotation text + underline -->
<text x="672.5" y="494" font-family="'Liberation Sans','Noto Sans CJK SC',sans-serif" font-size="12.5" fill="#da6292" textLength="121" lengthAdjust="spacingAndGlyphs">KD在高位形成背离结构</text>
<rect x="703" y="505.3" width="94" height="2" fill="#d06464"/>

<!-- watermark -->
<defs>
<radialGradient id="lg" cx="0.45" cy="0.42" r="0.6">
<stop offset="0" stop-color="#ea5222"/>
<stop offset="1" stop-color="#d42c18"/>
</radialGradient>
<linearGradient id="yg" x1="0.2" y1="0" x2="0.5" y2="1">
<stop offset="0" stop-color="#fae47a"/>
<stop offset="0.45" stop-color="#f7cf52"/>
<stop offset="0.8" stop-color="#f3ad36"/>
<stop offset="1" stop-color="#ee9a2c"/>
</linearGradient>
</defs>
<circle cx="725.1" cy="494.6" r="22.4" fill="url(#lg)"/>
<path d="M712,510.8 C720,511 728,507.4 733.5,501.8 C737,497.5 739,493.5 738.6,489.5 C738.3,487.2 736.8,485.8 734.3,485.6 C733,483 730.5,481.3 727.5,481.1 C724,480.2 721,481 719.5,482.8 C717.8,484.3 717.2,486 717.1,487.8 C714.5,488.3 712.6,490.5 712.5,493.5 C712.4,497 714.5,500 718,501.2 C720.5,501.8 723.5,501.5 725.5,500.8 L727.2,502.3 C724,505 719,507.4 712,510.8 Z" fill="url(#yg)"/>
<path d="M722.6,493.6 C723.4,491.3 727.4,490.6 728.9,493.3 C730.2,495.8 729.6,499.2 727.4,501.6 C724.5,504.2 720,506.2 714.2,508.2" fill="none" stroke="#dc3a1c" stroke-width="2.1" stroke-linecap="round"/>
<text x="749.3" y="501.6" font-family="'Noto Sans CJK SC',sans-serif" font-weight="700" font-size="29.5" fill="#a0a0a0" fill-opacity="0.95" textLength="97.4" lengthAdjust="spacingAndGlyphs">中金网</text>
<text x="753.8" y="516.8" font-family="'Liberation Sans',sans-serif" font-size="12.8" fill="#9c9c9c" textLength="89.5" lengthAdjust="spacingAndGlyphs">CNGOLD.COM.CN</text>
<text x="705" y="530.2" font-family="'Noto Sans CJK SC',sans-serif" font-weight="300" font-size="12.5" fill="#9a9a9a" textLength="137" lengthAdjust="spacing">中文财经新媒体</text>

</svg>
</body></html>
